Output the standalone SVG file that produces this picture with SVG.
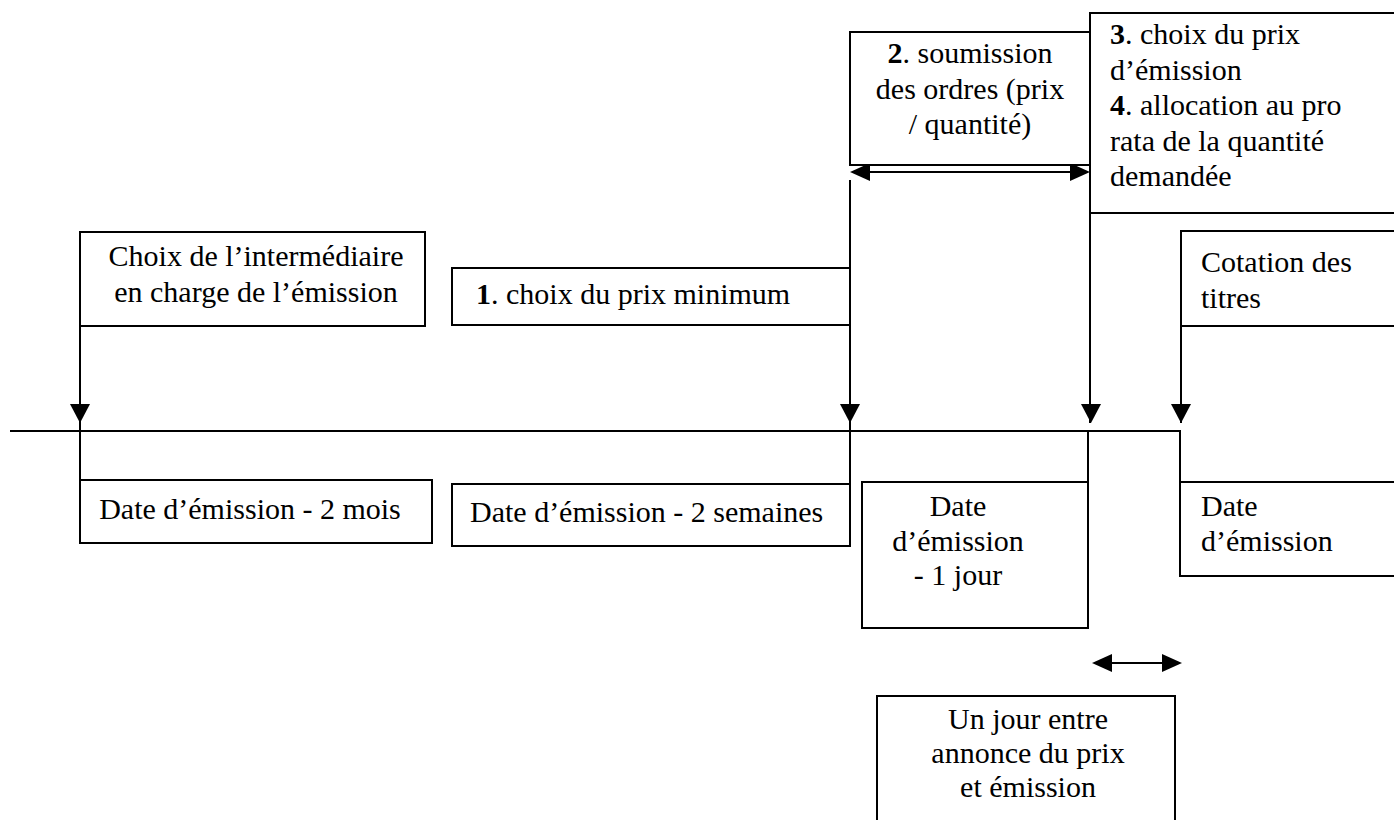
<svg xmlns="http://www.w3.org/2000/svg" xmlns:xlink="http://www.w3.org/1999/xlink" width="1394" height="820" viewBox="0 0 1394 820">
<style>
  .box { fill: #ffffff; stroke: #000000; stroke-width: 2; }
  .ln { fill: none; stroke: #000000; stroke-width: 2; }
  .t { font-family: 'Liberation Serif', 'DejaVu Serif', serif; font-size: 30px; fill: #000000; }
  .c { text-anchor: middle; }
  .b { font-weight: bold; }
</style>
<defs>
  <polygon id="ahDown" points="-10,-19 10,-19 0,0" fill="#000000"/>
  <polygon id="ahLeft" points="0,0 20,-9 20,9" fill="#000000"/>
  <polygon id="ahRight" points="0,0 -20,-9 -20,9" fill="#000000"/>
</defs>
<rect width="1394" height="820" fill="#ffffff"/>

<g id="connectors">
  <line class="ln" x1="10" y1="431" x2="1181" y2="431"/>
  <line class="ln" x1="80" y1="326" x2="80" y2="431"/>
  <use xlink:href="#ahDown" x="80" y="423"/>
  <line class="ln" x1="80" y1="431" x2="80" y2="480"/>
  <line class="ln" x1="850" y1="180" x2="850" y2="431"/>
  <use xlink:href="#ahDown" x="850" y="423"/>
  <line class="ln" x1="850" y1="431" x2="850" y2="484"/>
  <line class="ln" x1="1090" y1="213" x2="1090" y2="423"/>
  <use xlink:href="#ahDown" x="1091" y="423"/>
  <line class="ln" x1="1088" y1="431" x2="1088" y2="482"/>
  <line class="ln" x1="1181" y1="326" x2="1181" y2="423"/>
  <use xlink:href="#ahDown" x="1181" y="423"/>
  <line class="ln" x1="1180" y1="431" x2="1180" y2="482"/>
  <line class="ln" x1="868" y1="172" x2="1072" y2="172"/>
  <use xlink:href="#ahLeft" x="850" y="172"/>
  <use xlink:href="#ahRight" x="1090" y="172"/>
  <line class="ln" x1="1110" y1="663" x2="1164" y2="663"/>
  <use xlink:href="#ahLeft" x="1092" y="663"/>
  <use xlink:href="#ahRight" x="1182" y="663"/>
</g>

<g id="node-intermediaire">
  <rect class="box" x="80" y="232" width="345" height="94"/>
  <text class="t c" x="256" y="266">Choix de l’intermédiaire</text>
  <text class="t c" x="256" y="302">en charge de l’émission</text>
</g>

<g id="node-prix-minimum">
  <rect class="box" x="452" y="268" width="398" height="57"/>
  <text class="t" x="476" y="304"><tspan class="b">1</tspan>. choix du prix minimum</text>
</g>

<g id="node-soumission">
  <rect class="box" x="850" y="32" width="240" height="133"/>
  <text class="t c" x="970" y="63"><tspan class="b">2</tspan>. soumission</text>
  <text class="t c" x="970" y="99">des ordres (prix</text>
  <text class="t c" x="970" y="134">/ quantité)</text>
</g>

<g id="node-choix-allocation">
  <rect class="box" x="1090" y="13" width="312" height="200"/>
  <text class="t" x="1110" y="44"><tspan class="b">3</tspan>. choix du prix</text>
  <text class="t" x="1110" y="80">d’émission</text>
  <text class="t" x="1110" y="115"><tspan class="b">4</tspan>. allocation au pro</text>
  <text class="t" x="1110" y="151">rata de la quantité</text>
  <text class="t" x="1110" y="186">demandée</text>
</g>

<g id="node-cotation">
  <rect class="box" x="1181" y="231" width="221" height="95"/>
  <text class="t" x="1201" y="272">Cotation des</text>
  <text class="t" x="1201" y="308">titres</text>
</g>

<g id="node-date-2mois">
  <rect class="box" x="80" y="480" width="352" height="63"/>
  <text class="t c" x="250" y="519">Date d’émission - 2 mois</text>
</g>

<g id="node-date-2semaines">
  <rect class="box" x="452" y="484" width="398" height="62"/>
  <text class="t" x="470" y="522">Date d’émission - 2 semaines</text>
</g>

<g id="node-date-1jour">
  <rect class="box" x="862" y="482" width="226" height="146"/>
  <text class="t c" x="958" y="516">Date</text>
  <text class="t c" x="958" y="551">d’émission</text>
  <text class="t c" x="958" y="585">- 1 jour</text>
</g>

<g id="node-date-emission">
  <rect class="box" x="1180" y="482" width="222" height="94"/>
  <text class="t" x="1201" y="516">Date</text>
  <text class="t" x="1201" y="551">d’émission</text>
</g>

<g id="node-un-jour">
  <rect class="box" x="877" y="696" width="298" height="140"/>
  <text class="t c" x="1028" y="729">Un jour entre</text>
  <text class="t c" x="1028" y="763">annonce du prix</text>
  <text class="t c" x="1028" y="797">et émission</text>
</g>
</svg>
